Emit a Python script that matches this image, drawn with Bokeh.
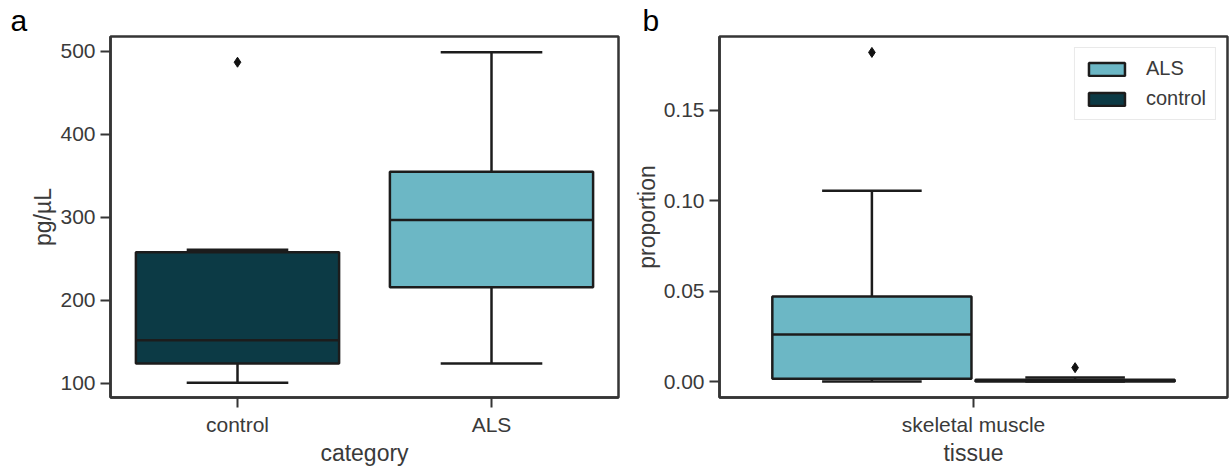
from bokeh.plotting import figure
from bokeh.layouts import row
from bokeh.models import (ColumnDataSource, FactorRange, Range1d, FixedTicker,
                          NumeralTickFormatter, Legend, LegendItem)
from bokeh.transform import dodge
from bokeh.embed import file_html
from bokeh.resources import INLINE

# ---- panel a: concentration (pg/µL) by category ----
conc_categories = ["control", "ALS"]
conc_whisker_low = [101, 124]
conc_q1 = [124, 216]
conc_median = [152, 297]
conc_q3 = [258, 355]
conc_whisker_high = [261, 499]
conc_outlier_category = ["control"]
conc_outlier_value = [487]
conc_yticks = [100, 200, 300, 400, 500]

# ---- panel b: proportion in skeletal muscle, split by group ----
tissue = ["skeletal muscle"]
groups = ["ALS", "control"]
prop_whisker_low = [0.0, 0.0]
prop_q1 = [0.0015, 0.0]
prop_median = [0.026, 0.0005]
prop_q3 = [0.047, 0.001]
prop_whisker_high = [0.1055, 0.0022]
prop_outlier_group = ["ALS", "control"]
prop_outlier_value = [0.182, 0.0077]
prop_yticks = [0.0, 0.05, 0.10, 0.15]

COLORS = {"ALS": "#6cb7c5", "control": "#0c3a45"}
EDGE = "#1c1c1c"
FRAME = "#353535"
TEXT = "#3a3a3a"
FONT = "Liberation Sans"
LW = 2.5


def style(p, xlabel, ylabel, panel_letter, letter_offset):
    p.outline_line_color = FRAME
    p.outline_line_width = LW
    p.xgrid.visible = False
    p.ygrid.visible = False
    for ax in (p.xaxis[0], p.yaxis[0]):
        ax.axis_line_color = FRAME
        ax.axis_line_width = LW
        ax.major_tick_line_color = FRAME
        ax.major_tick_line_width = 2
        ax.major_tick_in = 0
        ax.major_tick_out = 10
        ax.minor_tick_line_color = None
        ax.major_label_text_font = FONT
        ax.major_label_text_font_size = "21px"
        ax.major_label_text_color = TEXT
        ax.axis_label_text_font = FONT
        ax.axis_label_text_font_size = "23px"
        ax.axis_label_text_font_style = "normal"
        ax.axis_label_text_color = TEXT
        ax.major_label_standoff = 5
        ax.axis_label_standoff = 1
    p.xaxis[0].axis_label = xlabel
    p.yaxis[0].axis_label = ylabel
    # panel letter sits in the title slot, pushed left of the frame
    p.title.text = panel_letter
    p.title.align = "left"
    p.title.offset = letter_offset
    p.title.standoff = 0
    p.title.text_font = FONT
    p.title.text_font_size = "30px"
    p.title.text_font_style = "normal"
    p.title.text_color = "black"


def draw_boxes(p, src, field, base, width):
    """Box, median, whiskers and caps for every row of src."""
    def xs(off=0.0):
        return dodge(field, base + off, range=p.x_range)
    half, cap = width / 2, width / 4
    kw = dict(source=src, line_color=EDGE, line_width=LW)
    p.segment(x0=xs(), y0="q3", x1=xs(), y1="hi", **kw)
    p.segment(x0=xs(), y0="q1", x1=xs(), y1="lo", **kw)
    box = p.vbar(x=xs(), width=width, top="q3", bottom="q1",
                 fill_color="color", **kw)
    p.segment(x0=xs(-half), y0="med", x1=xs(half), y1="med", **kw)
    p.segment(x0=xs(-cap), y0="hi", x1=xs(cap), y1="hi", **kw)
    p.segment(x0=xs(-cap), y0="lo", x1=xs(cap), y1="lo", **kw)
    return box


# ---------------- panel a ----------------
pa = figure(x_range=FactorRange(factors=conc_categories), y_range=Range1d(83.1, 518),
            width=620, height=472, output_backend="svg", toolbar_location=None,
            min_border_left=110, min_border_right=2, min_border_top=36,
            min_border_bottom=75)
style(pa, "category", "pg/µL", "a", -100)
pa.yaxis[0].ticker = FixedTicker(ticks=conc_yticks)
pa.yaxis[0].formatter = NumeralTickFormatter(format="0")

src_a = ColumnDataSource(dict(
    cat=conc_categories, lo=conc_whisker_low, q1=conc_q1, med=conc_median,
    q3=conc_q3, hi=conc_whisker_high,
    color=[COLORS[c] for c in conc_categories]))
draw_boxes(pa, src_a, "cat", 0.0, 0.8)
pa.scatter(x=conc_outlier_category, y=conc_outlier_value, marker="diamond",
           size=10, fill_color="#111111", line_color="#111111")

# ---------------- panel b ----------------
pb = figure(x_range=FactorRange(factors=tissue), y_range=Range1d(-0.0088, 0.1908),
            width=611, height=472, output_backend="svg", toolbar_location=None,
            min_border_left=99, min_border_right=4, min_border_top=36,
            min_border_bottom=74)
style(pb, "tissue", "proportion", "b", -77)
pb.yaxis[0].ticker = FixedTicker(ticks=prop_yticks)
pb.yaxis[0].formatter = NumeralTickFormatter(format="0.00")

box_w = 0.392
offsets = {"ALS": -0.2, "control": 0.2}
legend_items = []
for i, g in enumerate(groups):
    src = ColumnDataSource(dict(
        cat=tissue, lo=[prop_whisker_low[i]], q1=[prop_q1[i]], med=[prop_median[i]],
        q3=[prop_q3[i]], hi=[prop_whisker_high[i]], color=[COLORS[g]]))
    r = draw_boxes(pb, src, "cat", offsets[g], box_w)
    legend_items.append(LegendItem(label=g, renderers=[r]))
    vals = [v for og, v in zip(prop_outlier_group, prop_outlier_value) if og == g]
    pb.scatter(x=dodge("cat", offsets[g], range=pb.x_range), y="v", marker="diamond",
               size=10, fill_color="#111111", line_color="#111111",
               source=ColumnDataSource(dict(cat=tissue * len(vals), v=vals)))

legend = Legend(items=legend_items, location="top_right", margin=11,
                padding=9, spacing=7, glyph_width=45, glyph_height=16,
                label_standoff=17, label_text_font=FONT, label_text_font_size="20px",
                label_text_color=TEXT, border_line_color="#d4d4d4",
                border_line_width=1.5, background_fill_alpha=0.85)
pb.add_layout(legend)

layout = row(pa, pb)
open("out.html", "w").write(file_html(layout, INLINE))
